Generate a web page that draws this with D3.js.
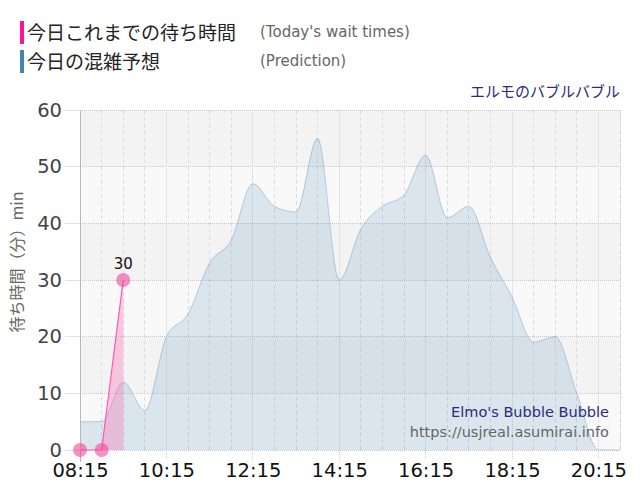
<!DOCTYPE html>
<html><head><meta charset="utf-8">
<script src="https://cdn.jsdelivr.net/npm/d3@7"></script>
<style>body{margin:0;background:#fff}svg{display:block}</style>
</head><body>
<svg id="c" width="640" height="500"></svg>
<script>
const predTimes = ["08:15","08:45","09:15","09:45","10:15","10:45","11:15","11:45","12:15","12:45","13:15","13:45","14:15","14:45","15:15","15:45","16:15","16:45","17:15","17:45","18:15","18:45","19:15","19:45","20:15","20:45"];
const predValues = [5,5,12,7,20,24,33,37,47,43,42,55,30,39,43,45,52,41,43,34,27,19,20,10,0,0];
const todayTimes = ["08:15","08:45","09:15"];
const todayValues = [0,0,30];
const xTickLabels = ["08:15","10:15","12:15","14:15","16:15","18:15","20:15"];
const yTicks = [0,10,20,30,40,50,60];

const toMin = s => { const [h,m] = s.split(":").map(Number); return h*60+m; };
const svg = d3.select("#c");
const L=80,R=620,T=110,B=450;
const x = d3.scaleLinear().domain([toMin("08:15"), toMin("20:45")]).range([L,R]);
const y = d3.scaleLinear().domain([0,60]).range([B,T]);

// bands
for (let i=0;i<6;i++){
  svg.append("rect").attr("x",L).attr("width",R-L)
    .attr("y",y(i*10+10)).attr("height",y(i*10)-y(i*10+10))
    .attr("fill", i%2===0 ? "#f9f9f9" : "#f3f3f3");
}
// vertical grid every 30 min
const vg = d3.range(toMin("08:15"), toMin("20:45")+1, 30);
vg.forEach(m=>{
  const major = (m-toMin("08:15"))%120===0;
  svg.append("line").attr("x1",x(m)).attr("x2",x(m)).attr("y1",T).attr("y2",major?460:B)
    .attr("stroke", major?"#d0d0d0":"#dcdcdc").attr("stroke-width",1)
    .attr("stroke-dasharray", major?"1,1":"4,3").attr("shape-rendering","crispEdges");
});
// horizontal grid
yTicks.forEach(v=>{
  svg.append("line").attr("x1",L).attr("x2",R).attr("y1",y(v)).attr("y2",y(v))
    .attr("stroke","#c8c8c8").attr("stroke-dasharray","1,1").attr("shape-rendering","crispEdges");
  svg.append("line").attr("x1",65).attr("x2",L).attr("y1",y(v)).attr("y2",y(v))
    .attr("stroke","#e0e0e0").attr("shape-rendering","crispEdges");
});
svg.append("line").attr("x1",R).attr("x2",R).attr("y1",T).attr("y2",B)
  .attr("stroke","#d0d0d0").attr("stroke-dasharray","1,1").attr("shape-rendering","crispEdges");

// y axis
const yAxis = d3.axisLeft(y).tickValues(yTicks).tickSize(0).tickPadding(18);
const ya = svg.append("g").attr("transform",`translate(${L},0)`).call(yAxis);
ya.select(".domain").remove();
ya.selectAll("text").attr("font-family","DejaVu Sans, Verdana, sans-serif").attr("font-size",19.5).attr("fill","#444");

// x axis
const xAxis = d3.axisBottom(x).tickValues(xTickLabels.map(toMin)).tickFormat((d,i)=>xTickLabels[i]).tickSize(0).tickPadding(13);
const xa = svg.append("g").attr("transform",`translate(0,${B})`).call(xAxis);
xa.select(".domain").remove();
xa.selectAll("text").attr("font-family","DejaVu Sans, Verdana, sans-serif").attr("font-size",19.5).attr("fill","#111");

// prediction area
const pred = predTimes.map((t,i)=>({m:toMin(t), v:predValues[i]}));
const area = d3.area().x(d=>x(d.m)).y0(y(0)).y1(d=>y(d.v)).curve(d3.curveMonotoneX);
const line = d3.line().x(d=>x(d.m)).y(d=>y(d.v)).curve(d3.curveMonotoneX);
svg.append("path").datum(pred).attr("d",area).attr("fill","#4682b4").attr("fill-opacity",0.17);
svg.append("path").datum(pred).attr("d",line).attr("fill","none").attr("stroke","#4682b4").attr("stroke-opacity",0.35).attr("stroke-width",1);

// left axis line
svg.append("line").attr("x1",L).attr("x2",L).attr("y1",T).attr("y2",462)
  .attr("stroke","#b8b8b8").attr("shape-rendering","crispEdges");

// today
const today = todayTimes.map((t,i)=>({m:toMin(t), v:todayValues[i]}));
const tArea = d3.area().x(d=>x(d.m)).y0(y(0)).y1(d=>y(d.v));
const tLine = d3.line().x(d=>x(d.m)).y(d=>y(d.v));
svg.append("path").datum(today).attr("d",tArea).attr("fill","#ff69b4").attr("fill-opacity",0.35);
svg.append("path").datum(today).attr("d",tLine).attr("fill","none").attr("stroke","#ff5aa8").attr("stroke-width",1.2);
svg.selectAll(".pt").data(today).enter().append("circle")
  .attr("cx",d=>x(d.m)).attr("cy",d=>y(d.v)).attr("r",7)
  .attr("fill","#f0489c").attr("fill-opacity",0.6);
const last = today[today.length-1];
svg.append("text").attr("x",x(last.m)).attr("y",y(last.v)-11).attr("text-anchor","middle")
  .attr("font-family","DejaVu Sans, Verdana, sans-serif").attr("font-size",15).attr("fill","#111").text(last.v);

// y title
svg.append("text").attr("transform","translate(23,262) rotate(-90)").attr("text-anchor","middle")
  .attr("font-family","Noto Sans CJK JP, sans-serif").attr("font-size",16).attr("fill","#666").text("待ち時間（分）min");

// legend
svg.append("rect").attr("x",20).attr("y",21).attr("width",4).attr("height",23).attr("fill","#ff1493");
svg.append("rect").attr("x",20).attr("y",50).attr("width",4).attr("height",23).attr("fill","#4682b4");
svg.append("text").attr("x",27).attr("y",40).attr("font-family","Noto Sans CJK JP, sans-serif").attr("font-size",19).attr("fill","#222").text("今日これまでの待ち時間");
svg.append("text").attr("x",27).attr("y",69).attr("font-family","Noto Sans CJK JP, sans-serif").attr("font-size",19).attr("fill","#222").text("今日の混雑予想");
svg.append("text").attr("x",260).attr("y",37).attr("font-family","DejaVu Sans, Verdana, sans-serif").attr("font-size",15).attr("fill","#666").text("(Today's wait times)");
svg.append("text").attr("x",260).attr("y",66).attr("font-family","DejaVu Sans, Verdana, sans-serif").attr("font-size",15).attr("fill","#666").text("(Prediction)");

// title
svg.append("text").attr("x",620).attr("y",97).attr("text-anchor","end").attr("font-family","Noto Sans CJK JP, sans-serif").attr("font-size",15).attr("fill","#2b2b7a").text("エルモのバブルバブル");

// watermark
svg.append("text").attr("x",609).attr("y",417).attr("text-anchor","end").attr("font-family","DejaVu Sans, Verdana, sans-serif").attr("font-size",14.5).attr("fill","#2b2b7a").text("Elmo's Bubble Bubble");
svg.append("text").attr("x",609).attr("y",437).attr("text-anchor","end").attr("font-family","DejaVu Sans, Verdana, sans-serif").attr("font-size",14.5).attr("fill","#666").text("https://usjreal.asumirai.info");
</script>
</body></html>
